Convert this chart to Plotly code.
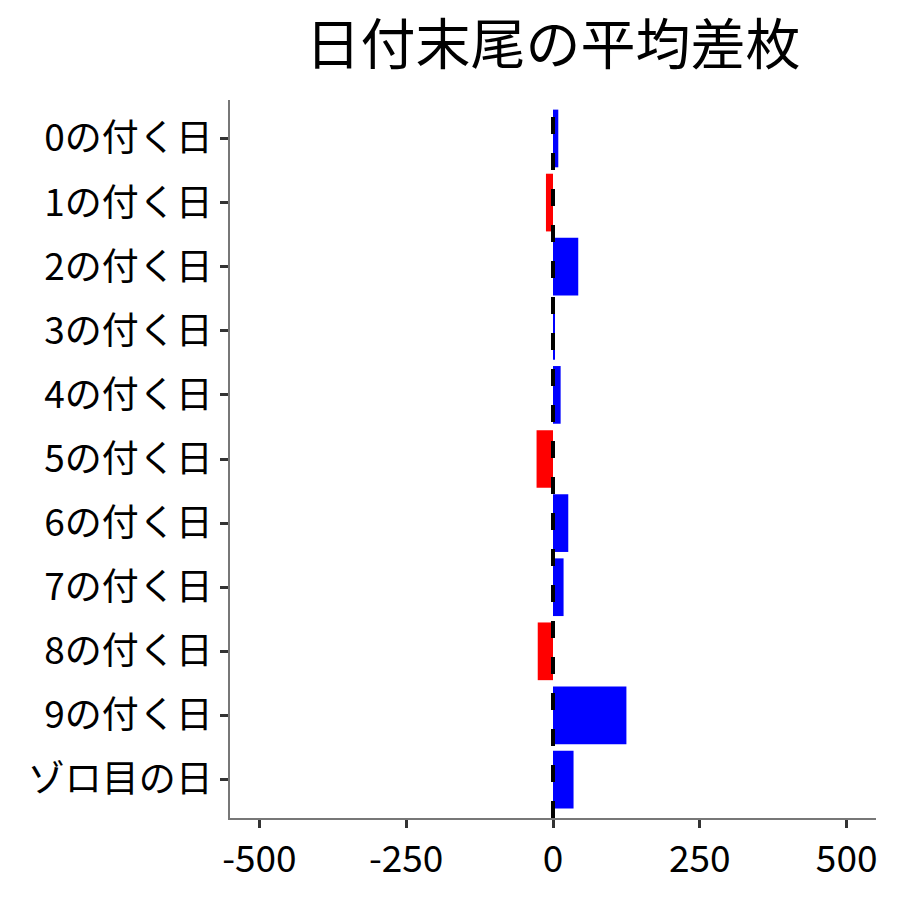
import plotly.graph_objects as go

categories = ["0の付く日", "1の付く日", "2の付く日", "3の付く日", "4の付く日",
              "5の付く日", "6の付く日", "7の付く日", "8の付く日", "9の付く日", "ゾロ目の日"]
values = [9, -12, 43, 2, 13, -28, 26, 18, -26, 125, 35]
x_ticks = [-500, -250, 0, 250, 500]

colors = ["#0000FF" if v >= 0 else "#FF0000" for v in values]
FONT = "Noto Sans CJK JP"

fig = go.Figure()
fig.add_trace(go.Bar(
    x=values, y=categories, orientation="h",
    marker=dict(color=colors, line=dict(width=0)),
    width=0.9, showlegend=False,
))
fig.add_shape(type="line", x0=0, x1=0, y0=0, y1=1, xref="x", yref="paper",
              line=dict(color="black", width=4, dash="17px,19px"), layer="above")

fig.update_layout(
    width=900, height=900,
    margin=dict(l=222, r=32, t=92, b=90),
    plot_bgcolor="white", paper_bgcolor="white",
    font=dict(family=FONT, color="black", size=37),
    title=dict(text="日付末尾の平均差枚", xref="paper", x=0.5, xanchor="center",
               yref="container", y=0.959, yanchor="middle",
               font=dict(family=FONT, size=55, color="black")),
)
fig.update_xaxes(
    range=[-550, 550], tickvals=x_ticks, ticktext=[str(t) for t in x_ticks],
    showgrid=False, zeroline=False, showline=True, linecolor="#777777", linewidth=1.5,
    ticks="outside", ticklen=8, tickwidth=3, tickcolor="#333333",
    tickfont=dict(size=37, family=FONT, color="black"),
)
fig.update_yaxes(
    categoryorder="array", categoryarray=categories,
    range=[10.6, -0.6], autorange=False,
    showgrid=False, zeroline=False, showline=True, linecolor="#777777", linewidth=1.5,
    ticks="outside", ticklen=8, tickwidth=3, tickcolor="#333333",
    tickfont=dict(size=37, family=FONT, color="black"),
)
fig.write_html("out.html")
